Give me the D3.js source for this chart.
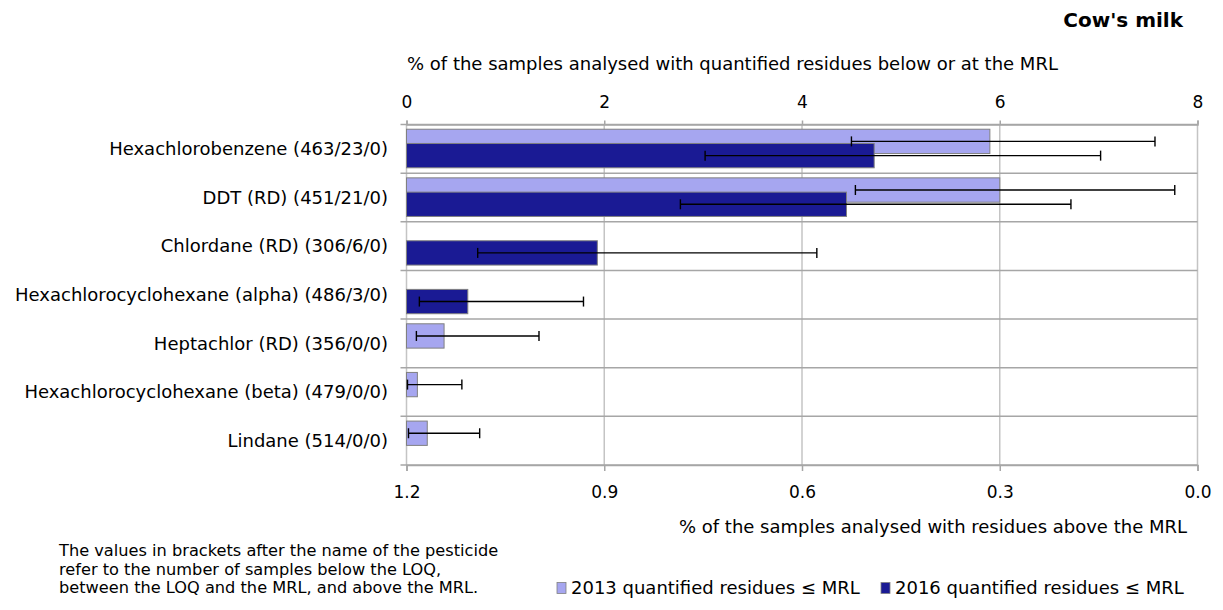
<!DOCTYPE html>
<html>
<head>
<meta charset="utf-8">
<script src="https://cdnjs.cloudflare.com/ajax/libs/d3/7.8.5/d3.min.js"></script>
<style>
  html, body { margin: 0; padding: 0; background: #fff; }
  svg { display: block; }
  text { font-family: "DejaVu Sans", sans-serif; fill: #000; }
</style>
</head>
<body>
<svg id="chart" width="1223" height="610"></svg>
<script>
// ---- data ----
const categories = [
  "Hexachlorobenzene (463/23/0)",
  "DDT (RD) (451/21/0)",
  "Chlordane (RD) (306/6/0)",
  "Hexachlorocyclohexane (alpha) (486/3/0)",
  "Heptachlor (RD) (356/0/0)",
  "Hexachlorocyclohexane (beta) (479/0/0)",
  "Lindane (514/0/0)"
];
const values2013 = [5.90, 6.00, null, null, 0.38, 0.11, 0.21];
const low2013    = [4.50, 4.54, null, null, 0.10, 0.01, 0.02];
const high2013   = [7.57, 7.77, null, null, 1.34, 0.56, 0.74];
const values2016 = [4.73, 4.45, 1.93, 0.62, null, null, null];
const low2016    = [3.02, 2.77, 0.72, 0.13, null, null, null];
const high2016   = [7.02, 6.72, 4.15, 1.79, null, null, null];
const topTicks = [0, 2, 4, 6, 8];
const bottomTicks = [1.2, 0.9, 0.6, 0.3, 0.0];
const seriesNames = ["2013 quantified residues \u2264 MRL", "2016 quantified residues \u2264 MRL"];
const seriesColors = ["#a6a6f0", "#1a1a94"];
const titleText = "Cow's milk";
const topAxisTitle = "% of the samples analysed with quantified residues below or at the MRL";
const bottomAxisTitle = "% of the samples analysed with residues above the MRL";
const noteLines = [
  "The values in brackets after the name of the pesticide",
  "refer to the number of samples below the LOQ,",
  "between the LOQ and the MRL, and above the MRL."
];

// ---- layout ----
const svg = d3.select("#chart");
const L = 406.5, R = 1197.5, T = 124.5, B = 465;
const FONT = '"DejaVu Sans", sans-serif';

const x = d3.scaleLinear().domain([0, 8]).range([L, R]);
const xb = d3.scaleLinear().domain([1.2, 0]).range([L, R]);
const y = d3.scaleBand().domain(categories).range([T, B]).padding(0);
const bw = y.bandwidth();
const barH = bw * 0.5;
const off = [bw * 0.097, bw * 0.39];

// vertical gridlines
svg.append("g").selectAll("line").data(topTicks).join("line")
  .attr("x1", d => x(d)).attr("x2", d => x(d))
  .attr("y1", T).attr("y2", B)
  .attr("stroke", "#c4c4c4").attr("stroke-width", 1.5);

// horizontal row lines
const rowEdges = categories.map(c => y(c)).concat([B]);
svg.append("g").selectAll("line").data(rowEdges).join("line")
  .attr("x1", L - 6).attr("x2", R)
  .attr("y1", d => d).attr("y2", d => d)
  .attr("stroke", "#a6a6a6").attr("stroke-width", 1.5);

// top axis
const topAxis = svg.append("g").attr("transform", `translate(0,${T})`)
  .call(d3.axisTop(x).tickValues(topTicks).tickFormat(d3.format("d")).tickSize(4).tickPadding(13));
topAxis.select(".domain").attr("stroke", "#a6a6a6").attr("stroke-width", 1.5);
topAxis.selectAll(".tick line").attr("stroke", "#a6a6a6").attr("stroke-width", 1.5);
topAxis.selectAll("text").attr("font-size", 17).attr("fill", "#000").style("font-family", FONT);

// bottom axis
const botAxis = svg.append("g").attr("transform", `translate(0,${B})`)
  .call(d3.axisBottom(xb).tickValues(bottomTicks).tickFormat(d3.format(".1f")).tickSize(6).tickPadding(15));
botAxis.select(".domain").attr("stroke", "#a6a6a6").attr("stroke-width", 1.5);
botAxis.selectAll(".tick line").attr("stroke", "#a6a6a6").attr("stroke-width", 1.5);
botAxis.selectAll("text").attr("font-size", 17).attr("fill", "#000").style("font-family", FONT);

// bars
const series = [
  { v: values2013, lo: low2013, hi: high2013 },
  { v: values2016, lo: low2016, hi: high2016 }
];
series.forEach((s, si) => {
  const data = categories.map((c, i) => ({ c, v: s.v[i], lo: s.lo[i], hi: s.hi[i] })).filter(d => d.v != null);
  svg.append("g").selectAll("rect").data(data).join("rect")
    .attr("x", x(0)).attr("y", d => y(d.c) + off[si])
    .attr("width", d => x(d.v) - x(0)).attr("height", barH)
    .attr("fill", seriesColors[si]).attr("stroke", "#808080").attr("stroke-width", 1);
});
// error bars
series.forEach((s, si) => {
  const data = categories.map((c, i) => ({ c, v: s.v[i], lo: s.lo[i], hi: s.hi[i] })).filter(d => d.v != null);
  const g = svg.append("g").attr("stroke", "#000").attr("stroke-width", 1.4);
  const cy = d => y(d.c) + off[si] + barH / 2;
  g.selectAll("line.h").data(data).join("line").attr("class", "h")
    .attr("x1", d => x(d.lo)).attr("x2", d => x(d.hi)).attr("y1", cy).attr("y2", cy);
  g.selectAll("line.l").data(data).join("line").attr("class", "l")
    .attr("x1", d => x(d.lo)).attr("x2", d => x(d.lo)).attr("y1", d => cy(d) - 5).attr("y2", d => cy(d) + 5);
  g.selectAll("line.r").data(data).join("line").attr("class", "r")
    .attr("x1", d => x(d.hi)).attr("x2", d => x(d.hi)).attr("y1", d => cy(d) - 5).attr("y2", d => cy(d) + 5);
});

// category labels
svg.append("g").selectAll("text").data(categories).join("text")
  .attr("x", 388).attr("y", d => y(d) + bw / 2)
  .attr("dy", "0.35em").attr("text-anchor", "end").attr("font-size", 18)
  .text(d => d);

// title
svg.append("text").attr("x", 1183).attr("y", 27).attr("text-anchor", "end")
  .attr("font-size", 20).attr("font-weight", "bold").text(titleText);

// axis titles
svg.append("text").attr("x", 407).attr("y", 70).attr("font-size", 18).text(topAxisTitle);
svg.append("text").attr("x", 1187).attr("y", 533).attr("text-anchor", "end").attr("font-size", 18).text(bottomAxisTitle);

// footnote
svg.append("g").selectAll("text").data(noteLines).join("text")
  .attr("x", 59).attr("y", (d, i) => 556 + i * 18.5).attr("font-size", 16.2).text(d => d);

// legend
const legX = [557, 881];
const leg = svg.append("g").selectAll("g").data(seriesNames).join("g")
  .attr("transform", (d, i) => `translate(${legX[i]},588)`);
leg.append("rect").attr("x", 0).attr("y", -5.5).attr("width", 9).attr("height", 11)
  .attr("fill", (d, i) => seriesColors[i]).attr("stroke", "#808080").attr("stroke-width", 0.8);
leg.append("text").attr("x", 14).attr("y", 0).attr("dy", "0.35em").attr("font-size", 18).text(d => d);
</script>
</body>
</html>
